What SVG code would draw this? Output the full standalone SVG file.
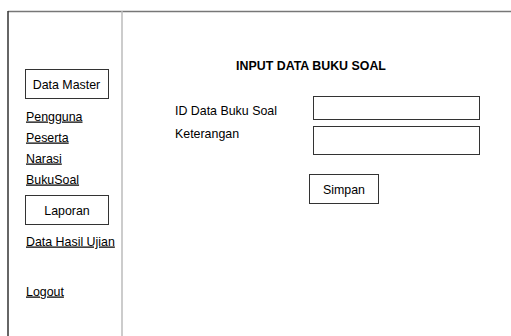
<svg xmlns="http://www.w3.org/2000/svg" width="511" height="336" viewBox="0 0 511 336">
<style>
text{font-family:"Liberation Sans",Arial,sans-serif;font-size:12.4px;fill:#000}
.box{fill:#fff;stroke:#333;stroke-width:1}
.u{text-decoration:underline}
.c{text-anchor:middle}
</style>
<rect width="511" height="336" fill="#fff"/>
<g id="frame">
<line x1="8" y1="11.5" x2="511" y2="11.5" stroke="#777" stroke-width="1.5"/>
<line x1="8" y1="11" x2="8" y2="336" stroke="#333" stroke-width="1.5"/>
<line x1="122" y1="11" x2="122" y2="336" stroke="#bbb" stroke-width="1.5"/>
</g>
<g id="menu">
<g id="data-master"><rect class="box" x="25.5" y="69.5" width="83" height="29"/><text class="c" x="66.5" y="88.5">Data Master</text></g>
<text id="pengguna" class="u" x="26" y="120.5">Pengguna</text>
<text id="peserta" class="u" x="26" y="141.5">Peserta</text>
<text id="narasi" class="u" x="26" y="162.5">Narasi</text>
<text id="bukusoal" class="u" x="26" y="183.5">BukuSoal</text>
<g id="laporan"><rect class="box" x="25.5" y="195.5" width="83" height="29"/><text class="c" x="67" y="214.5">Laporan</text></g>
<text id="data-hasil" class="u" x="26" y="245.5">Data Hasil Ujian</text>
<text id="logout" class="u" x="26" y="295.5">Logout</text>
</g>
<g id="form">
<text id="title" class="c" x="311" y="69.5" font-weight="bold">INPUT DATA BUKU SOAL</text>
<text id="lbl-id" x="175" y="114.5">ID Data Buku Soal</text>
<text id="lbl-ket" x="175" y="137.5">Keterangan</text>
<rect id="in-id" class="box" x="313.5" y="96.5" width="166" height="23"/>
<rect id="in-ket" class="box" x="313.5" y="126.5" width="166" height="28"/>
<g id="simpan"><rect class="box" x="309.5" y="174.5" width="69" height="29"/><text class="c" x="344" y="193.5">Simpan</text></g>
</g>
</svg>
